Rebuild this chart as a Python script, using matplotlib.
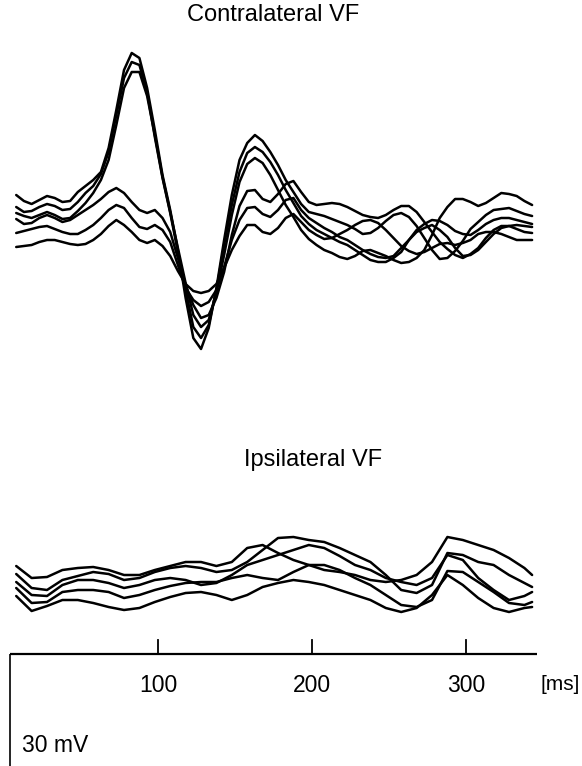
import numpy as np
import matplotlib
matplotlib.use("Agg")
import matplotlib.pyplot as plt

plt.rcParams["font.family"] = ["Liberation Sans", "DejaVu Sans"]

# time grids (ms)
T_TOP = np.arange(8, 344, 5)
T_BOTTOM = np.r_[np.arange(8, 339, 10), 343]

# contralateral VF, six traces (mV)
contra = [
    [6.25, 4.75, 4, 5, 6, 5.5, 4.5, 4.75, 7, 8.5, 10, 12, 18, 27.5, 37.5, 41.75, 40.5, 33, 22.5, 11.25,
     2.5, -7.5, -19.5, -29.5, -32.25, -27, -17, -5, 6.25, 15, 19.25, 21.25, 19.75, 17, 13.75, 10, 7, 4, 2, 1.5,
     1, 0.25, -0.5, -1.25, -2.25, -3.5, -3.25, -2, -0.25, 1.25, 1.75, 0.75, -1.5, -4.5, -7.5, -9.75, -9.5, -7.75,
     -5.25, -2.25, -0.5, 1.25, 2.5, 2.75, 3, 2.25, 1.5, 1],
    [3.25, 2, 2.25, 3.25, 4, 3.5, 2.5, 2.75, 4.5, 6.75, 8.5, 11.5, 17, 26.25, 35.5, 39.5, 38.75, 32, 20.75, 10.5,
     1.75, -8, -17.5, -26.75, -29.5, -26.25, -17.5, -6.25, 3.75, 12, 16.75, 18.25, 17, 14.5, 11.25, 7.5, 4.25, 1,
     -1, -2.5, -3.5, -4.5, -5.5, -6.25, -7.5, -8.75, -10, -10.5, -10.5, -9.5, -8, -5, -3, -2, -1.25, -2.5, -4.25,
     -7, -9, -8.75, -7.5, -5.5, -3.5, -2, -1.5, -1.25, -1.5, -1.75],
    [1.75, 1, 0.5, 1.25, 2, 1.25, 0.25, 0.5, 2.25, 4.25, 6.75, 10, 15, 23.75, 33, 37, 37, 31, 21.25, 10.75,
     2, -7, -15.75, -23.75, -26.75, -25, -18, -8.75, 1.25, 9.5, 14, 15.5, 14.25, 11.25, 7.5, 3.75, 0.75, -2.5,
     -4.75, -6.25, -7.5, -8.25, -9.25, -9.75, -9, -7.75, -7.5, -8.25, -9, -10, -10.75, -10.5, -9.5, -7.5, -3.75,
     0.5, 3.25, 5.25, 5.25, 4.5, 3.5, 4.25, 5.5, 6.75, 6.5, 6, 4.75, 3.75],
    [0.25, -1, -0.75, 0.5, 1.25, 0.5, -0.5, 0, 1.25, 2.5, 3.75, 5.25, 7, 8, 6.75, 4.5, 2.5, 1.75, 2.5, 0.5,
     -3, -9.5, -16.25, -21.25, -24.5, -23.75, -19.5, -13, -3.75, 3.5, 7.25, 7.5, 5.25, 4.5, 6.5, 9, 9.75, 7, 4.5,
     3.75, 4, 4.25, 4, 3.25, 2.25, 1.25, 0.75, 0.5, 1.25, 2.5, 3.5, 3.5, 2, -0.5, -3, -5.5, -7.25, -8.75, -9.5,
     -8.5, -7, -4.5, -2.5, -1.5, -1.5, -2.25, -3, -3.25],
    [-3.25, -2.75, -2.25, -1.75, -1.5, -2.25, -3, -3.5, -3.5, -2.5, -1.25, 0.5, 2.5, 3.75, 3, 0.5, -1.75, -2.25,
     -1.25, -2.5, -5.5, -11.25, -17, -20, -21.5, -20.5, -17.5, -11.75, -5, 0, 3, 3.25, 1.5, 0.75, 2.5, 5, 5.5, 2.5,
     0.5, -0.75, -2, -3, -4.25, -5, -6.25, -7.5, -8.5, -9.25, -9.5, -9, -7, -5, -2.5, -1, 0, -0.25, -1.25, -2.75,
     -3.5, -3.75, -2.5, -1, 0, 0.5, 0.5, 0, -0.5, -1],
    [-6.75, -6.5, -6.25, -5.5, -5, -5, -5.5, -6, -6.25, -6, -5, -3.5, -1.5, 0, -1.25, -3, -5, -5.75, -5, -6.5,
     -9, -12.75, -16, -17.75, -18.25, -17.75, -16, -12, -7.5, -4, -1.25, -1.25, -3, -3.5, -2, 0.5, 1.5, -0.5, -2.5,
     -3.75, -4.75, -4.5, -3.5, -2.5, -1.25, -0.25, 0, -0.75, -2.5, -4.5, -6.5, -7.75, -8.5, -8, -7, -6, -5.75,
     -6.25, -5.75, -5, -3.5, -3, -3, -3.5, -4.25, -5, -5, -5],
]

# ipsilateral VF, five traces (mV)
ipsi = [
    [3.5, 0.5, 0.75, 2.5, 3, 3.25, 2.5, 1.25, 1.25, 2.5, 3.5, 4.5, 4.5, 3.5, 4.5, 8, 8.75, 6.75, 5, 3.75, 2.5, 2,
     1.25, 0, -0.5, 0, 1.25, 4.5, 10.75, 10, 8.75, 7.5, 5.5, 3, 1.25],
    [1.5, -2, -2.5, 0, 1, 2, 1.5, 0, 0.5, 2, 3, 3.5, 3, 2, 2.5, 4.5, 7.5, 10.5, 10.75, 10, 9.5, 8, 6.25, 4.5,
     1.25, -2.5, -3.25, -1.25, 6.75, 6.25, 4.5, 3.75, 1.25, -0.75, -1.75],
    [-0.5, -3.75, -4, -1.25, 0, 0, -0.75, -2, -1.25, 0, 0.5, 0, -1.25, -0.75, 1.25, 3.75, 5, 6.25, 7.5, 8.75, 8,
     6, 3.75, 2.5, 0.5, -0.5, -1.25, 0.5, 6.25, 5, 0.5, -2.5, -5, -4, -3],
    [-2, -5.75, -5.5, -3, -2.5, -2.5, -3, -4.5, -3.75, -2.5, -1.5, -0.75, -0.5, -0.5, 0.5, 1.25, 0.5, 0, 2, 3.75,
     3.75, 2.5, 0.5, -1.25, -3.75, -6.25, -6.75, -5, 2.25, 2, -0.5, -3, -5.75, -6.25, -5.5],
    [-4, -7.75, -6.5, -5, -5, -5.75, -6.75, -7.5, -7, -5.5, -4.25, -3.25, -3, -3.75, -5, -3.75, -1.75, -0.75, 0,
     -0.5, -1.25, -2.5, -3.75, -5, -7, -8, -7, -3.75, 1.25, -1.25, -4.5, -7, -8, -7, -6.75],
]

TICKS = [100, 200, 300]
SCALE_MV = 30

# layout (data units: ms / mV, time axis at 0 mV)
OFF_TOP = 108.5
OFF_BOTTOM = 18.5
LW = 1.8

fig = plt.figure(figsize=(5.82, 7.66), dpi=100)
ax = fig.add_axes([0, 0, 1, 1])
ax.set_xlim(-2.53, 375.4)
ax.set_ylim(-28, 163.5)
ax.axis("off")

for tr in contra:
    ax.plot(T_TOP, np.array(tr) + OFF_TOP, color="black", lw=LW,
            solid_joinstyle="round", solid_capstyle="round")
for tr in ipsi:
    ax.plot(T_BOTTOM, np.array(tr) + OFF_BOTTOM, color="black", lw=LW,
            solid_joinstyle="round", solid_capstyle="round")

ax.text(174.7, 159.75, "Contralateral VF", ha="center", va="center", fontsize=17)
ax.text(200.7, 48.5, "Ipsilateral VF", ha="center", va="center", fontsize=17)

# time axis and scale bar
ax.plot([4, 346], [0, 0], color="black", lw=1.6, solid_capstyle="butt")
ax.plot([4, 4], [0, -SCALE_MV], color="black", lw=1.2, solid_capstyle="butt")
for t in TICKS:
    ax.plot([t, t], [0, 3.5], color="black", lw=1.3)
    ax.text(t, -7.75, str(t), ha="center", va="center", fontsize=16.5)
ax.text(348.5, -7.75, "[ms]", ha="left", va="center", fontsize=15)
ax.text(11.5, -22.75, "30 mV", ha="left", va="center", fontsize=16.5)

fig.savefig("out.png", dpi=100)
